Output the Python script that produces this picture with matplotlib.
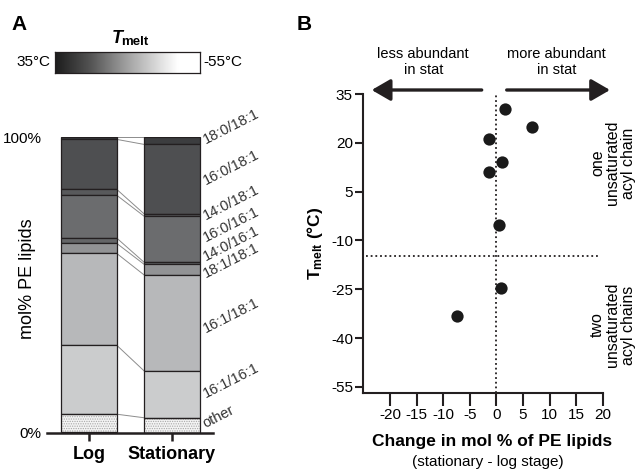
import numpy as np
import matplotlib.pyplot as plt
from matplotlib.colors import LinearSegmentedColormap

plt.rcParams['font.family'] = ['Liberation Sans', 'DejaVu Sans']
plt.rcParams['mathtext.fontset'] = 'custom'
plt.rcParams['mathtext.rm'] = 'Liberation Sans'
plt.rcParams['mathtext.bf'] = 'Liberation Sans:bold'
plt.rcParams['hatch.linewidth'] = 0.6
plt.rcParams['axes.unicode_minus'] = False

INK = '#231f20'

# Panel A: PE species composition (mol %), listed top to bottom of the stack
species = ['18:0/18:1', '16:0/18:1', '14:0/18:1', '16:0/16:1', '14:0/16:1',
           '18:1/18:1', '16:1/18:1', '16:1/16:1', 'other']
log_pct = [0.7, 16.9, 2.0, 14.5, 1.8, 3.4, 31.1, 23.4, 6.2]
stat_pct = [2.4, 23.5, 0.8, 15.6, 0.7, 3.6, 32.5, 15.9, 5.0]
stages = ['Log', 'Stationary']
seg_colors = ['#3c3d3f', '#4e4f51', '#58595b', '#6b6c6e', '#646567',
              '#929395', '#b7b8ba', '#cbcccd', '#f4f4f4']
label_y = [97.7, 83.8, 72.0, 64.6, 58.1, 52.3, 33.7, 11.7, 1.5]

# Panel B: change in mol % vs melting temperature
change = [1.6, 6.8, -1.3, 1.1, -1.3, 0.6, 0.9, -7.4]
tmelt = [30.4, 25.0, 21.3, 14.1, 11.1, -5.3, -24.6, -33.3]
split_t = -14.7
yticks_b = [35, 20, 5, -10, -25, -40, -55]
xticks_b = [-20, -15, -10, -5, 0, 5, 10, 15, 20]

W, H = 643, 472
fig = plt.figure(figsize=(W / 100, H / 100), dpi=100)


def box(x0, y0, x1, y1):
    # pixel box (top-left origin) -> figure fraction rect
    return [x0 / W, 1 - y1 / H, (x1 - x0) / W, (y1 - y0) / H]


# ---- Panel A bars ----
axA = fig.add_axes(box(47.3, 137.3, 213.3, 432.5))
bw = 0.67
for i, pct in enumerate([log_pct, stat_pct]):
    top = 100.0
    for j, v in enumerate(pct):
        bottom = top - v
        if species[j] == 'other':
            axA.bar(i, v, bottom=bottom, width=bw, color=seg_colors[j],
                    hatch='.......', edgecolor='#a8a8a8', linewidth=0, zorder=2)
            axA.bar(i, v, bottom=bottom, width=bw, fill=False,
                    edgecolor=INK, linewidth=0.9, zorder=3)
        else:
            axA.bar(i, v, bottom=bottom, width=bw, color=seg_colors[j],
                    edgecolor=INK, linewidth=0.9, zorder=3)
        top = bottom

# connecting lines between matching boundaries
lb = 100 - np.concatenate([[0], np.cumsum(log_pct)[:-1]])
sb = 100 - np.concatenate([[0], np.cumsum(stat_pct)[:-1]])
for a, b in zip(lb, sb):
    axA.plot([bw / 2, 1 - bw / 2], [a, b], color='#8c8c8c', lw=0.7, zorder=1)

for name, y in zip(species, label_y):
    axA.text(1.41, y, name, rotation=27, rotation_mode='anchor',
             ha='left', va='baseline', fontsize=10.5, color='#333333',
             clip_on=False)

axA.set_xlim(-0.5, 1.5)
axA.set_ylim(0, 100)
for s in ['left', 'top', 'right']:
    axA.spines[s].set_visible(False)
axA.spines['bottom'].set_linewidth(1.8)
axA.spines['bottom'].set_color(INK)
axA.set_yticks([0, 100])
axA.set_yticklabels(['0%', '100%'], fontsize=11)
axA.tick_params(axis='y', length=0, pad=4)
axA.set_xticks([0, 1])
axA.set_xticklabels(stages, fontsize=13, fontweight='bold')
axA.tick_params(axis='x', length=5.5, width=1.8, color=INK, pad=4)
axA.set_ylabel('mol% PE lipids', fontsize=13)
axA.yaxis.set_label_coords(-0.07, 0.52)

# ---- Tmelt gradient bar ----
axC = fig.add_axes(box(55, 51.7, 200, 73.3))
cmap = LinearSegmentedColormap.from_list(
    'tm', [(0, '#1c1c1c'), (0.25, '#555555'), (0.5, '#a2a2a2'),
           (0.75, '#e6e6e6'), (0.85, '#ffffff'), (1, '#ffffff')])
axC.imshow(np.linspace(0, 1, 256)[None, :], cmap=cmap, aspect='auto')
axC.set_xticks([])
axC.set_yticks([])
for s in axC.spines.values():
    s.set_linewidth(0.9)
    s.set_color(INK)
fig.text(50 / W, 1 - 62 / H, '35°C', ha='right', va='center', fontsize=11)
fig.text(203 / W, 1 - 62 / H, '-55°C', ha='left', va='center', fontsize=11)
fig.text(111.5 / W, 1 - 43.3 / H, 'T', fontsize=13, fontweight='bold',
         fontstyle='italic', va='baseline')
fig.text(121 / W, 1 - 45 / H, 'melt', fontsize=9.5, fontweight='bold',
         va='baseline')

fig.text(11 / W, 1 - 30 / H, 'A', fontsize=15, fontweight='bold', va='baseline')
fig.text(297 / W, 1 - 30 / H, 'B', fontsize=15, fontweight='bold', va='baseline')

# ---- Panel B scatter ----
axB = fig.add_axes(box(363.3, 94, 602.7, 392.7))
axB.scatter(change, tmelt, s=78, color='#1a1a1a', zorder=3, linewidths=0)
axB.axvline(0, color=INK, lw=1.3, ls=(0, (1, 1.6)), zorder=1)
axB.plot([-24.4, 19.5], [split_t, split_t], color=INK, lw=1.3,
         ls=(0, (1, 1.6)), zorder=1)
axB.set_xlim(-25, 20)
axB.set_ylim(-56.8, 35)
for s in ['top', 'right']:
    axB.spines[s].set_visible(False)
for s in ['left', 'bottom']:
    axB.spines[s].set_linewidth(1.5)
    axB.spines[s].set_color(INK)
axB.set_yticks(yticks_b)
axB.set_xticks(xticks_b)
axB.tick_params(axis='y', length=6, width=1.5, color=INK, pad=1.5, labelsize=11)
axB.tick_params(axis='x', length=9.5, width=1.5, color=INK, pad=1.5, labelsize=11)
axB.set_ylabel(r'$\mathbf{T_{melt}}$ (°C)', fontsize=12.5, fontweight='bold')
axB.yaxis.set_label_coords(-0.16, 0.5)

fig.text(492.5 / W, 1 - 441.7 / H, 'Change in mol % of PE lipids',
         ha='center', va='center', fontsize=12.5, fontweight='bold')
fig.text(488 / W, 1 - 462 / H, '(stationary - log stage)',
         ha='center', va='center', fontsize=11)

# arrows above panel B
arrow = dict(arrowstyle='-|>,head_length=0.95,head_width=0.55',
             lw=2.4, color=INK, shrinkA=0, shrinkB=0, mutation_scale=12)
axB.annotate('', xy=(371.7, H - 90), xytext=(481.7, H - 90),
             xycoords='figure pixels', textcoords='figure pixels',
             arrowprops=arrow)
axB.annotate('', xy=(610, H - 90), xytext=(506.7, H - 90),
             xycoords='figure pixels', textcoords='figure pixels',
             arrowprops=arrow)
fig.text(423.3 / W, 1 - 62 / H, 'less abundant\nin stat', ha='center',
         va='center', fontsize=10.5, linespacing=1.25)
fig.text(556.7 / W, 1 - 62 / H, 'more abundant\nin stat', ha='center',
         va='center', fontsize=10.5, linespacing=1.25)

fig.text(613 / W, 1 - 163 / H, 'one\nunsaturated\nacyl chain', rotation=90,
         ha='center', va='center', fontsize=11.5, linespacing=1.05)
fig.text(613 / W, 1 - 325 / H, 'two\nunsaturated\nacyl chains', rotation=90,
         ha='center', va='center', fontsize=11.5, linespacing=1.05)

fig.savefig('out.png', dpi=100)
